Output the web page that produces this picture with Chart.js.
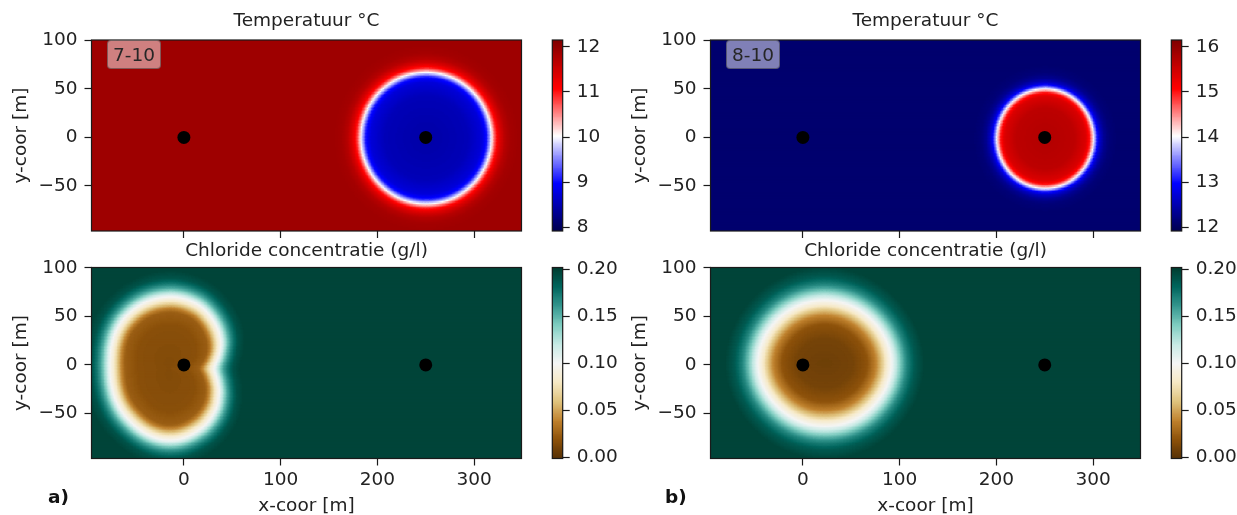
<!DOCTYPE html>
<html>
<head>
<meta charset="utf-8">
<script src="https://cdn.jsdelivr.net/npm/chart.js@4.4.1/dist/chart.umd.min.js"></script>
<style>
html, body { margin: 0; padding: 0; background: #fff; overflow: hidden; }
#fig { position: relative; width: 1237px; height: 515px; overflow: hidden; }
#fig canvas { position: absolute; }
.tag { position: absolute; height: 29px; width: 54px; box-sizing: border-box; font: 18.5px 'DejaVu Sans'; line-height: 27px;
       text-align: center; color: #262626; background: rgba(255,255,255,.5); border: 1px solid rgba(40,40,40,.45); border-radius: 4px; }
.lbl { position: absolute; font: bold 18.5px 'DejaVu Sans'; line-height: 22px; color: #111; }
</style>
</head>
<body>
<div id="fig"></div>
<script>
/* Temperatuur- en chlorideveld rond twee putten (a: 7-10, b: 8-10).
 * Elk veld = horizontale zwevende bars (rijen van 1,5 m) op lineaire assen,
 * opgebouwd uit het gemeten randprofiel van de bel. */

// assen
const xRange = [-95.5, 349];
const yRange = [-96.5, 100.5];
const xTickVals = [0, 100, 200, 300];
const yTickVals = [-50, 0, 50, 100];

// putten
const wellX = [0, 250];
const wellY = [0, 0];

// a) temperatuur: koude bel bij de rechter put
const tempA_range  = [7.92, 12.15];
const tempA_ticks  = [8, 9, 10, 11, 12];
const tempA_centre = [251, 0];
const tempA_angle  = [0, 90, 180, 270];
const tempA_radius = [67.4, 67.7, 67.4, 67.7];
const tempA_dist   = [-70, -25, -10, -5, -2.5, 0, 2.5, 5, 9, 14, 20, 28];
const tempA_value  = [8.45, 8.55, 8.75, 9.05, 9.55, 10.0, 10.55, 11.0, 11.4, 11.7, 11.85, 11.9];

// b) temperatuur: warme bel bij de rechter put
const tempB_range  = [11.92, 16.15];
const tempB_ticks  = [12, 13, 14, 15, 16];
const tempB_centre = [251, -0.5];
const tempB_angle  = [0, 90, 180, 270];
const tempB_radius = [50, 51.3, 50, 51.3];
const tempB_dist   = [-55, -20, -8, -4, -2, 0, 2, 4, 7, 11, 16, 24];
const tempB_value  = [15.75, 15.65, 15.4, 15.0, 14.5, 14.03, 13.5, 13.0, 12.6, 12.32, 12.18, 12.12];

// chloride (beide onderste panelen)
const chl_range = [-0.001, 0.2016];
const chl_ticks = [0, 0.05, 0.10, 0.15, 0.20];

const chlA_centre = [-15, -3];
const chlA_angle  = [0, 12, 24, 36, 50, 65, 90, 128, 180, 230, 270, 300, 320, 336, 348];
const chlA_radius = [47, 52, 59, 64, 68.5, 72.5, 74, 70, 61, 67, 74, 70, 64, 57, 51];
const chlA_dist   = [-80, -30, -16, -12, -8, -4, 0, 4, 8, 13, 19, 27];
const chlA_value  = [0.015, 0.018, 0.025, 0.04, 0.062, 0.085, 0.10, 0.125, 0.15, 0.172, 0.19, 0.198];

const chlB_centre = [22, 2];
const chlB_angle  = [0, 45, 90, 135, 180, 225, 270, 315];
const chlB_radius = [70, 67, 65.5, 66, 68, 65, 64.5, 67];
const chlB_dist   = [-70, -40, -25, -16, -10, -5, 0, 5, 10, 16, 24, 34];
const chlB_value  = [0.008, 0.011, 0.02, 0.04, 0.062, 0.085, 0.10, 0.122, 0.145, 0.168, 0.187, 0.198];

// kleurenschalen (matplotlib seismic / BrBG)
const seismicStops = [[0, 0, 76], [0, 0, 255], [255, 255, 255], [255, 0, 0], [128, 0, 0]];
const brbgStops = ['#543005', '#8c510a', '#bf812d', '#dfc27d', '#f6e8c3', '#f5f5f5',
                   '#c7eae5', '#80cdc1', '#35978f', '#01665e', '#003c30']
  .map(h => [parseInt(h.substr(1, 2), 16), parseInt(h.substr(3, 2), 16), parseInt(h.substr(5, 2), 16)]);

const CELL = 1.5;        // m, rijhoogte en kolombreedte van het veld
const COL_DX = 619;      // px tussen linker en rechter kolom
const FONT = "'DejaVu Sans'";

Chart.defaults.font.family = FONT;
Chart.defaults.font.size = 18.5;
Chart.defaults.color = '#222';

function colour(stops, t) {
  t = Math.max(0, Math.min(1, t));
  t = Math.round(t * 255) / 255;
  const n = stops.length - 1;
  const k = Math.min(n - 1, Math.floor(t * n));
  const f = t * n - k;
  const a = stops[k], b = stops[k + 1];
  return 'rgb(' + Math.round(a[0] + f * (b[0] - a[0])) + ',' +
                  Math.round(a[1] + f * (b[1] - a[1])) + ',' +
                  Math.round(a[2] + f * (b[2] - a[2])) + ')';
}

function interp(xs, ys, v) {
  if (v <= xs[0]) return ys[0];
  for (let i = 1; i < xs.length; i++) {
    if (v <= xs[i]) {
      const t = (v - xs[i - 1]) / (xs[i] - xs[i - 1]);
      return ys[i - 1] + t * (ys[i] - ys[i - 1]);
    }
  }
  return ys[ys.length - 1];
}

function rimRadius(angles, radii, a) {
  /* straal van de bel-rand in richting a (graden), cyclisch Catmull-Rom */
  const n = angles.length;
  let i = 0;
  for (let k = 0; k < n; k++) if (a >= angles[k]) i = k;
  const a0 = angles[i], a1 = i + 1 < n ? angles[i + 1] : angles[0] + 360;
  const t = (a - a0) / (a1 - a0);
  const p0 = radii[(i - 1 + n) % n], p1 = radii[i], p2 = radii[(i + 1) % n], p3 = radii[(i + 2) % n];
  return p1 + 0.5 * t * (p2 - p0 + t * (2 * p0 - 5 * p1 + 4 * p2 - p3 + t * (3 * (p1 - p2) + p3 - p0)));
}

function plumeValue(p, x, y) {
  const dx = x - p.centre[0], dy = y - p.centre[1];
  let a = Math.atan2(dy, dx) * 180 / Math.PI;
  if (a < 0) a += 360;
  return interp(p.dist, p.value, Math.hypot(dx, dy) - rimRadius(p.angle, p.radius, a));
}

function buildField(p, stops, range) {
  /* rij per rij, aaneengesloten cellen met gelijke kleur samengevoegd */
  const data = [], colors = [];
  const nx = Math.ceil((xRange[1] - xRange[0]) / CELL);
  const ny = Math.ceil((yRange[1] - yRange[0]) / CELL);
  for (let j = 0; j < ny; j++) {
    const yc = yRange[0] + (j + 0.5) * CELL;
    let start = xRange[0], cur = null;
    for (let i = 0; i < nx; i++) {
      const xc = xRange[0] + (i + 0.5) * CELL;
      const col = colour(stops, (plumeValue(p, xc, yc) - range[0]) / (range[1] - range[0]));
      if (col !== cur) {
        if (cur !== null) { data.push({ y: yc, x: [start, xRange[0] + i * CELL] }); colors.push(cur); }
        start = xRange[0] + i * CELL;
        cur = col;
      }
    }
    data.push({ y: yc, x: [start, xRange[1]] });
    colors.push(cur);
  }
  return { data, colors };
}

function buildBar(stops, range) {
  const data = [], colors = [];
  const n = 240, step = (range[1] - range[0]) / n;
  for (let i = 0; i < n; i++) {
    const v = range[0] + (i + 0.5) * step;
    data.push({ y: v, x: [0, 1] });
    colors.push(colour(stops, (i + 0.5) / n));
  }
  return { data, colors };
}

const frame = {
  id: 'frame',
  afterDatasetsDraw(chart) {
    const { ctx, chartArea: a } = chart;
    ctx.save();
    ctx.strokeStyle = '#1a1a1a';
    ctx.lineWidth = 1.2;
    ctx.strokeRect(a.left, a.top, a.right - a.left, a.bottom - a.top);
    ctx.restore();
  }
};

function addCanvas(left, top, w, h) {
  const c = document.createElement('canvas');
  c.width = w; c.height = h;
  c.style.left = left + 'px'; c.style.top = top + 'px';
  c.style.width = w + 'px'; c.style.height = h + 'px';
  document.getElementById('fig').appendChild(c);
  return c;
}

const minus = v => String(v).replace('-', '\u2212');
const tickGrid = { display: true, drawOnChartArea: false, drawTicks: true, tickLength: 7, tickWidth: 1.2, tickColor: '#1a1a1a', offset: false };

// rij-indeling: canvas-top, plot-top (t.o.v. canvas), canvashoogte, titel-padding
const rows = [
  { top: 0,   plotTop: 40,   h: 251, titlePad: { top: 9.9,  bottom: 7.9 } },
  { top: 227, plotTop: 40.5, h: 290, titlePad: { top: 12.9, bottom: 5.4 } }
];
const PLOT_H = 191;

function fieldChart(col, r, p, stops, range, title) {
  const row = rows[r];
  const W = 540;
  const bottomRow = r === 1;
  const field = buildField(p, stops, range);
  const canvas = addCanvas(col * COL_DX, row.top, W, row.h);
  new Chart(canvas, {
    type: 'scatter',
    data: {
      datasets: [
        { data: wellX.map((x, i) => ({ x, y: wellY[i] })), pointRadius: 6.5, pointBackgroundColor: '#000',
          pointBorderColor: '#000', pointBorderWidth: 0 },
        { type: 'bar', indexAxis: 'y', data: field.data, backgroundColor: field.colors,
          borderWidth: 0, inflateAmount: 0.6, barPercentage: 1, categoryPercentage: 1 }
      ]
    },
    options: {
      responsive: false, animation: false, events: [], devicePixelRatio: 1,
      layout: { padding: { left: 0, right: W - 521.5, top: 0, bottom: 0 } },
      plugins: {
        legend: { display: false }, tooltip: { enabled: false },
        title: { display: true, text: title, fullSize: false, padding: row.titlePad,
                 font: { size: 18.5, weight: 'normal' }, color: '#222' }
      },
      scales: {
        x: {
          type: 'linear', position: 'bottom', min: xRange[0], max: xRange[1], offset: false, beginAtZero: false,
          border: { display: false }, grid: tickGrid,
          ticks: { padding: 3.4, maxRotation: 0, autoSkip: false, callback: v => bottomRow ? minus(v) : '' },
          afterBuildTicks: s => { s.ticks = xTickVals.map(v => ({ value: v })); },
          afterFit: s => { s.height = row.h - row.plotTop - PLOT_H; },
          title: { display: bottomRow, text: 'x-coor [m]', padding: { top: 0, bottom: 0 } }
        },
        y: {
          type: 'linear', position: 'left', min: yRange[0], max: yRange[1], offset: false, beginAtZero: false,
          border: { display: false }, grid: tickGrid,
          ticks: { padding: 7, autoSkip: false, callback: v => minus(v) },
          afterBuildTicks: s => { s.ticks = yTickVals.map(v => ({ value: v })); },
          afterFit: s => { s.width = 91.5; },
          title: { display: true, text: 'y-coor [m]', padding: { top: 9.9, bottom: 0 } }
        }
      }
    },
    plugins: [frame]
  });
}

function colourBar(col, r, stops, range, ticks, fmt) {
  const row = rows[r];
  const W = col === 0 ? 100 : 78;
  const bar = buildBar(stops, range);
  const canvas = addCanvas(540 + col * COL_DX, row.top, W, row.h);
  new Chart(canvas, {
    type: 'scatter',
    data: {
      datasets: [{ type: 'bar', indexAxis: 'y', data: bar.data, backgroundColor: bar.colors,
                   borderWidth: 0, inflateAmount: 0.6, barPercentage: 1, categoryPercentage: 1 }]
    },
    options: {
      responsive: false, animation: false, events: [], devicePixelRatio: 1,
      layout: { padding: { left: 12.3, right: 0, top: row.plotTop, bottom: row.h - row.plotTop - PLOT_H } },
      plugins: { legend: { display: false }, tooltip: { enabled: false } },
      scales: {
        x: { type: 'linear', display: false, min: 0, max: 1, offset: false },
        y: {
          type: 'linear', position: 'right', min: range[0], max: range[1], offset: false, beginAtZero: false,
          border: { display: false }, grid: tickGrid,
          ticks: { padding: 7, autoSkip: false, callback: v => fmt(v) },
          afterBuildTicks: s => { s.ticks = ticks.map(v => ({ value: v })); },
          afterFit: s => { s.width = W - 12.3 - 10.4; }
        }
      }
    },
    plugins: [frame]
  });
}

const plume = (centre, angle, radius, dist, value) => ({ centre, angle, radius, dist, value });

fieldChart(0, 0, plume(tempA_centre, tempA_angle, tempA_radius, tempA_dist, tempA_value), seismicStops, tempA_range, 'Temperatuur °C');
fieldChart(1, 0, plume(tempB_centre, tempB_angle, tempB_radius, tempB_dist, tempB_value), seismicStops, tempB_range, 'Temperatuur °C');
fieldChart(0, 1, plume(chlA_centre, chlA_angle, chlA_radius, chlA_dist, chlA_value), brbgStops, chl_range, 'Chloride concentratie (g/l)');
fieldChart(1, 1, plume(chlB_centre, chlB_angle, chlB_radius, chlB_dist, chlB_value), brbgStops, chl_range, 'Chloride concentratie (g/l)');

colourBar(0, 0, seismicStops, tempA_range, tempA_ticks, v => String(v));
colourBar(1, 0, seismicStops, tempB_range, tempB_ticks, v => String(v));
colourBar(0, 1, brbgStops, chl_range, chl_ticks, v => v.toFixed(2));
colourBar(1, 1, brbgStops, chl_range, chl_ticks, v => v.toFixed(2));

// scenario-labels en paneelletters
const fig = document.getElementById('fig');
[['7-10', 107, 40, 'tag'], ['8-10', 107 + COL_DX, 40, 'tag'], ['a)', 48, 486, 'lbl'], ['b)', 48 + 617, 486, 'lbl']]
  .forEach(([txt, x, y, cls]) => {
    const d = document.createElement('div');
    d.className = cls;
    d.textContent = txt;
    d.style.left = x + 'px';
    d.style.top = y + 'px';
    fig.appendChild(d);
  });
</script>
</body>
</html>
